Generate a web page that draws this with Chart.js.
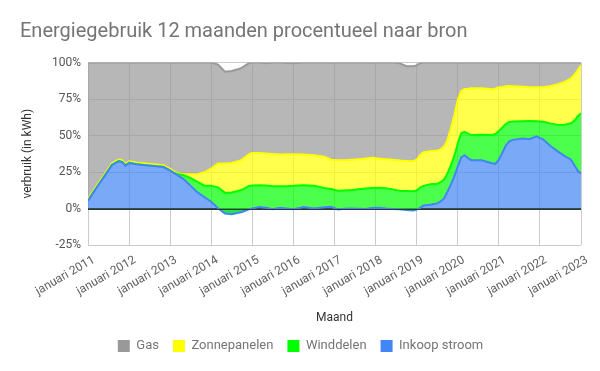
<!DOCTYPE html>
<html>
<head>
<meta charset="utf-8">
<script src="https://cdn.jsdelivr.net/npm/chart.js@4"></script>
<style>
  body { margin: 0; background: #fff; }
</style>
</head>
<body>
<canvas id="grafiek" width="600" height="371"></canvas>
<script>
const maandNr = [0, 2, 5, 7, 9, 10, 11, 12, 14, 16, 19, 22, 24, 25, 26, 28, 30, 32, 34, 36,
  38, 40, 42, 44, 45, 47, 48, 50, 52, 54, 56, 58, 60, 63, 66, 69, 71, 73, 75, 77,
  79, 81, 83, 85, 87, 89, 91, 93, 95, 96, 97, 98, 100, 102, 103, 104, 105, 106, 107, 108,
  109, 110, 111, 112, 115, 118, 119, 120, 121, 122, 123, 124, 127, 129, 131, 133, 135, 137, 139, 141,
  142, 143, 144]

// aandeel per bron in %
const inkoopStroom = [5.2, 12.5, 22.8, 29.8, 32.4, 31.8, 29.4, 31.2, 30.3, 29.8, 29.1, 28.4, 26.0, 24.4, 23.0, 20.0, 15.5, 11.0, 7.8, 4.6,
  0.2, -3.4, -3.9, -3.0, -2.4, -0.5, 0, 1.1, 0.5, -0.5, 0.5, 0, -0.5, 1.0, 0, 0.8, 1.2, -0.6, -0.2, 0,
  -0.2, -0.3, 0.3, 0.5, 0, -0.3, -0.6, -1.1, -1.4, -0.8, 0.5, 2.0, 2.5, 3.5, 4.8, 6.9, 11.5, 16.5, 22.0, 28.7,
  35.0, 36.5, 34.5, 33.1, 33.1, 31.0, 30.5, 33.5, 38.0, 43.0, 45.8, 47.0, 48.0, 47.5, 49.4, 47.2, 43.0, 39.5, 36.2, 33.6,
  30.0, 26.0, 24.0]
const winddelen = [0.2, 0.2, 0.2, 0.2, 0.2, 0.2, 0.2, 0.2, 0.2, 0.2, 0.2, 0.2, 0.2, 0.2, 0.6, 2.8, 5.3, 7.2, 7.8, 11.0,
  14.3, 14.1, 14.9, 15.2, 15.2, 16.0, 15.7, 14.9, 15.2, 15.8, 14.8, 15.3, 16.0, 15.0, 15.6, 13.2, 12.1, 12.7, 12.5, 12.6,
  13.4, 14.0, 13.7, 13.7, 13.8, 13.4, 12.8, 13.1, 13.3, 13.1, 13.8, 13.5, 14.1, 13.5, 13.2, 12.9, 12.5, 13.0, 14.0, 15.8,
  16.5, 16.0, 16.8, 17.2, 17.4, 19.3, 20.5, 19.5, 17.5, 14.8, 13.5, 12.6, 11.8, 12.5, 10.4, 12.2, 15.3, 17.9, 21.0, 24.8,
  30.0, 37.0, 41.2]
const zonnepanelen = [1.0, 1.0, 1.0, 1.0, 1.0, 1.0, 1.0, 1.0, 1.0, 1.0, 1.0, 1.0, 1.0, 1.0, 0.6, 0.6, 2.6, 5.4, 9.2, 11.9,
  16.3, 20.2, 20.2, 20.3, 20.7, 21.7, 22.3, 22.0, 22.0, 22.0, 21.7, 21.8, 21.7, 21.0, 20.9, 21.4, 20.1, 21.0, 20.8, 20.8,
  20.6, 20.5, 20.7, 20.0, 20.0, 20.3, 20.7, 20.6, 20.5, 21.2, 22.3, 23.0, 22.6, 22.8, 22.5, 22.7, 23.0, 25.5, 28.0, 30.0,
  29.0, 29.3, 30.7, 32.0, 31.8, 31.3, 31.3, 30.0, 27.8, 25.9, 24.6, 24.2, 23.6, 23.1, 23.2, 23.6, 25.5, 27.6, 29.3, 30.6,
  31.4, 31.5, 33.1]
const gas = [93.6, 86.3, 76.0, 69.0, 66.4, 67.0, 69.4, 67.6, 68.5, 69.0, 69.7, 70.4, 72.8, 74.4, 75.8, 76.6, 76.6, 76.4, 75.2, 72.5,
  67.7, 62.8, 63.0, 63.0, 63.0, 62.3, 62.0, 62.0, 61.8, 62.7, 63.0, 62.5, 62.3, 63.0, 63.5, 64.6, 66.6, 66.9, 66.9, 66.6,
  66.2, 65.8, 65.3, 65.8, 66.2, 66.6, 66.6, 64.9, 65.1, 64.5, 62.9, 61.5, 60.8, 60.2, 59.5, 57.5, 53.0, 45.0, 36.0, 25.5,
  19.5, 18.2, 18.0, 17.7, 17.7, 18.4, 17.7, 17.0, 16.7, 16.3, 16.1, 16.2, 16.6, 16.9, 17.0, 17.0, 16.2, 15.0, 13.5, 11.0,
  8.6, 5.5, 1.7]

const yTicks = [-25, 0, 25, 50, 75, 100]

function punten(waarden) {
  return maandNr.map((m, i) => ({ x: 2011 + m / 12, y: waarden[i] }))
}

// nullijn over de vlakken heen
const nulLijn = {
  id: 'nulLijn',
  afterDatasetsDraw(chart) {
    const { ctx, chartArea, scales } = chart
    const y = Math.round(scales.y.getPixelForValue(0)) + 0.5
    ctx.save()
    ctx.strokeStyle = '#333'
    ctx.lineWidth = 1
    ctx.beginPath()
    ctx.moveTo(chartArea.left, y)
    ctx.lineTo(chartArea.right, y)
    ctx.stroke()
    ctx.restore()
  }
}

const lijnKleur = ['#4285f4', '#00ff00', '#ffff00', '#999999']

new Chart(document.getElementById('grafiek'), {
  type: 'line',
  data: {
    datasets: [
      {
        label: 'Inkoop stroom', data: punten(inkoopStroom),
        borderColor: lijnKleur[0],
        fill: { target: 'origin', above: 'rgba(66,133,244,0.7)', below: 'rgba(0,200,70,0.5)' }
      },
      { label: 'Winddelen', data: punten(winddelen), borderColor: lijnKleur[1], backgroundColor: 'rgba(0,255,0,0.7)', fill: '-1' },
      { label: 'Zonnepanelen', data: punten(zonnepanelen), borderColor: lijnKleur[2], backgroundColor: 'rgba(255,255,0,0.7)', fill: '-1' },
      { label: 'Gas', data: punten(gas), borderColor: lijnKleur[3], backgroundColor: 'rgba(153,153,153,0.7)', fill: '-1' }
    ]
  },
  options: {
    responsive: false,
    animation: false,
    devicePixelRatio: 1,
    layout: { padding: { left: 20, right: 19, top: 0, bottom: 8.5 } },
    elements: {
      point: { radius: 0 },
      line: { borderWidth: 2, tension: 0 }
    },
    scales: {
      x: {
        type: 'linear',
        min: 2011,
        max: 2023,
        afterFit: s => { s.height = 80.5 },
        border: { display: false },
        grid: { color: '#cccccc', drawTicks: false },
        ticks: {
          stepSize: 1,
          autoSkip: false,
          minRotation: 30,
          maxRotation: 30,
          padding: 8,
          labelOffset: 6,
          color: '#616161',
          font: { family: 'Roboto', size: 12 },
          callback: v => 'januari ' + v
        },
        title: {
          display: true, text: 'Maand', color: '#333',
          font: { family: 'Roboto', size: 12 },
          padding: { top: 4, bottom: 0 }
        }
      },
      y: {
        stacked: 'single',
        min: -25,
        max: 100,
        afterFit: s => { s.width = 68 },
        afterBuildTicks: s => { s.ticks = yTicks.map(v => ({ value: v })) },
        border: { display: false },
        grid: {
          drawTicks: false,
          color: c => c.tick && c.tick.value === 0 ? '#333' : '#cccccc'
        },
        ticks: {
          padding: 7,
          color: '#555',
          font: { family: 'Roboto', size: 12 },
          callback: v => v + '%'
        },
        title: {
          display: true, text: 'verbruik (in kWh)', color: '#333',
          font: { family: 'Roboto', size: 12 },
          padding: { top: 1, bottom: 4 }
        }
      }
    },
    plugins: {
      title: {
        display: true,
        align: 'start',
        text: 'Energiegebruik 12 maanden procentueel naar bron',
        color: '#757575',
        font: { family: 'Roboto', size: 20, weight: 'normal' },
        padding: { top: 20, bottom: 18.5 }
      },
      legend: {
        position: 'bottom',
        reverse: true,
        labels: {
          boxWidth: 12,
          boxHeight: 12,
          padding: 14,
          color: '#757575',
          font: { family: 'Roboto', size: 13 },
          generateLabels(chart) {
            const items = Chart.defaults.plugins.legend.labels.generateLabels(chart)
            items.forEach(it => {
              it.fillStyle = lijnKleur[it.datasetIndex]
              it.strokeStyle = lijnKleur[it.datasetIndex]
              it.lineWidth = 0
            })
            return items
          }
        }
      },
      tooltip: { enabled: false }
    }
  },
  plugins: [nulLijn]
})
</script>
</body>
</html>
